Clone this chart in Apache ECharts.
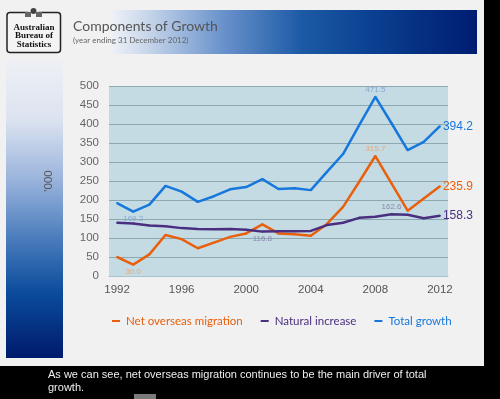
<!DOCTYPE html>
<html>
<head>
<meta charset="utf-8">
<script src="https://cdn.jsdelivr.net/npm/echarts@6/dist/echarts.min.js"></script>
<style>
  html, body { margin: 0; padding: 0; background: #000; }
  #chart { width: 500px; height: 399px; }
</style>
</head>
<body>
<div id="chart"></div>
<script>
var years = ['1992','1993','1994','1995','1996','1997','1998','1999','2000','2001','2002',
             '2003','2004','2005','2006','2007','2008','2009','2010','2011','2012'];
var netOverseas = [50, 30.0, 57, 108, 97, 73, 88, 103, 112, 136, 112, 110, 106, 137, 182, 248, 315.7, 244, 172, 204, 235.9];
var naturalInc = [140, 138, 133, 131, 126, 124, 123, 123.5, 122, 116.8, 117.5, 118, 118.6, 134, 140, 153, 156, 162.6, 161, 152, 158.3];
var totalGrowth = [192, 169.2, 188, 237, 222, 195, 210, 228, 234, 255, 229, 231, 226, 274, 321, 397, 471.5, 402, 331, 353, 394.2];

var names = ['Net overseas migration', 'Natural increase', 'Total growth'];
var colors = ['#e8600c', '#4a2f80', '#1677dc'];
var faint = ['#e9a677', '#8a88a8', '#85a8d0'];

// which points get a small label, and where
var smallLabels = [
    {1: 'bottom', 16: 'top'},
    {9: 'bottom', 17: 'top'},
    {1: 'bottom', 16: 'top'}
];

function fmt(p){ return p.value.toFixed(1); }

function buildData(vals, s){
    var out = [];
    for (var i = 0; i < vals.length; i++) {
        var item = {value: vals[i]};
        if (smallLabels[s][i]) {
            item.label = {show: true, position: smallLabels[s][i], distance: 2,
                fontSize: 8, color: faint[s], fontFamily: 'Liberation Sans', formatter: fmt};
        }
        if (i === vals.length - 1) {
            item.label = {show: true, position: 'right', distance: 2,
                fontSize: 12, color: colors[s], fontFamily: 'Liberation Sans', formatter: fmt};
        }
        out.push(item);
    }
    return out;
}

var seriesVals = [netOverseas, naturalInc, totalGrowth];
var series = [];
for (var s = 0; s < seriesVals.length; s++) {
    series.push({
        name: names[s],
        type: 'line',
        data: buildData(seriesVals[s], s),
        showSymbol: true,
        symbol: 'circle',
        symbolSize: 2,
        label: {show: false},
        lineStyle: {width: 2.5, color: colors[s]},
        itemStyle: {color: colors[s]},
        z: s === 1 ? 4 : 3
    });
}

var chart = echarts.init(document.getElementById('chart'));
chart.setOption({
    backgroundColor: '#000',
    animation: false,
    graphic: [
        // slide
        {type: 'rect', shape: {x: 0, y: 0, width: 484, height: 366}, style: {fill: '#f1f1f1'}, z: -10},
        // left bar
        {type: 'rect', shape: {x: 6, y: 60, width: 57, height: 298}, z: -9,
            style: {fill: new echarts.graphic.LinearGradient(0, 0, 0, 1, [
                {offset: 0, color: '#eef0f5'},
                {offset: 0.2, color: '#dce3f0'},
                {offset: 0.4, color: '#9ab4dc'},
                {offset: 0.6, color: '#4a7cbc'},
                {offset: 0.78, color: '#0b4c9c'},
                {offset: 1, color: '#001a6c'}
            ])}},
        // header banner
        {type: 'rect', shape: {x: 112, y: 10, width: 365, height: 44}, z: -9,
            style: {fill: new echarts.graphic.LinearGradient(0, 0, 1, 0, [
                {offset: 0, color: '#eef1f7'},
                {offset: 0.1, color: '#c6d5ea'},
                {offset: 0.3, color: '#6b93cc'},
                {offset: 0.52, color: '#1c5aa6'},
                {offset: 0.72, color: '#0a3f8f'},
                {offset: 1, color: '#001c72'}
            ])}},
        {type: 'text', left: 73, top: 19, z: 5,
            style: {text: 'Components of Growth', fill: '#555', font: '14px Lato'}},
        {type: 'text', left: 73, top: 36, z: 5,
            style: {text: '(year ending 31 December 2012)', fill: '#666', font: '8px Lato'}},
        // logo
        {type: 'rect', shape: {x: 7, y: 12.5, width: 53.5, height: 40, r: 3}, z: 5,
            style: {fill: '#f4f4f4', stroke: '#222', lineWidth: 1.5}},
        {type: 'circle', shape: {cx: 33.5, cy: 12, r: 5}, z: 6, style: {fill: '#f4f4f4'}},
        {type: 'circle', shape: {cx: 33.5, cy: 11, r: 3}, z: 6, style: {fill: '#444'}},
        {type: 'rect', shape: {x: 25, y: 12, width: 6, height: 5}, z: 6, style: {fill: '#666'}},
        {type: 'rect', shape: {x: 36, y: 12, width: 6, height: 5}, z: 6, style: {fill: '#666'}},
        {type: 'text', x: 34, y: 27.5, z: 6,
            style: {text: 'Australian', fill: '#111', font: 'bold 9px "Liberation Serif"', align: 'center', verticalAlign: 'middle'}},
        {type: 'text', x: 34, y: 36, z: 6,
            style: {text: 'Bureau of', fill: '#111', font: 'bold 9px "Liberation Serif"', align: 'center', verticalAlign: 'middle'}},
        {type: 'text', x: 34, y: 44.5, z: 6,
            style: {text: 'Statistics', fill: '#111', font: 'bold 9px "Liberation Serif"', align: 'center', verticalAlign: 'middle'}},
        // caption below slide
        {type: 'text', left: 48, top: 368,
            style: {text: 'As we can see, net overseas migration continues to be the main driver of total\ngrowth.',
                fill: '#eee', font: '11px "Liberation Sans"', lineHeight: 13.5}},
        {type: 'rect', shape: {x: 134, y: 394, width: 22, height: 6}, style: {fill: '#7a7a7a'}}
    ],
    grid: {left: 109, top: 86, width: 339, height: 190, show: true,
        backgroundColor: '#c4dbe4', borderWidth: 0},
    legend: {
        bottom: 67,
        left: 107,
        icon: 'rect',
        itemWidth: 8,
        itemHeight: 2,
        itemGap: 18,
        itemStyle: {borderWidth: 0},
        textStyle: {fontFamily: 'Lato', fontSize: 11.5, padding: [0, 0, 0, 1]},
        data: names.map(function(n, i){ return {name: n, textStyle: {color: colors[i]}}; })
    },
    xAxis: {
        type: 'category',
        data: years,
        boundaryGap: true,
        axisLine: {lineStyle: {color: '#a9c3cc'}},
        axisTick: {interval: 3, length: 4, lineStyle: {color: '#9ab'}},
        axisLabel: {interval: 3, color: '#555', fontSize: 11.5, margin: 8, fontFamily: 'Liberation Sans'}
    },
    yAxis: {
        type: 'value',
        min: 0, max: 500, interval: 50,
        name: "'000",
        nameLocation: 'middle',
        nameGap: 54,
        nameRotate: 90,
        nameTextStyle: {color: '#555', fontSize: 11.5, fontFamily: 'Liberation Sans'},
        axisLine: {show: false},
        axisTick: {show: false},
        axisLabel: {color: '#666', fontSize: 11.5, margin: 10, fontFamily: 'Liberation Sans'},
        splitLine: {lineStyle: {color: '#8ea8b2', width: 1}}
    },
    series: series
});
</script>
</body>
</html>
